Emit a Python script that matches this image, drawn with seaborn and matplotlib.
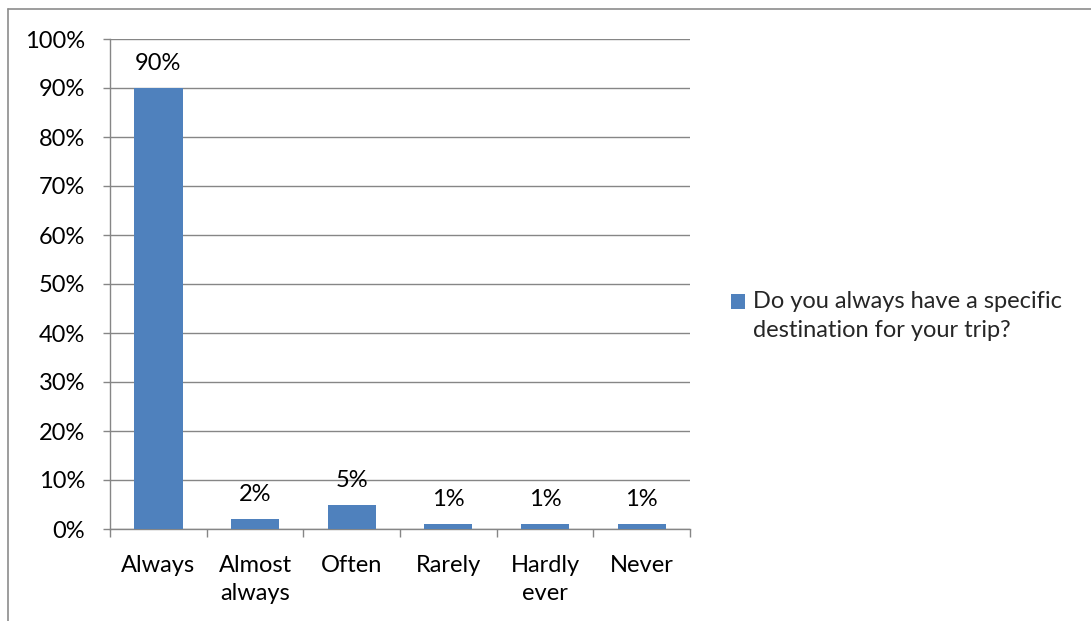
import matplotlib
matplotlib.use("Agg")
import matplotlib.pyplot as plt
from matplotlib.lines import Line2D
from matplotlib.patches import Patch, Rectangle
from matplotlib.legend_handler import HandlerPatch
from matplotlib.ticker import FixedLocator, FuncFormatter
import seaborn as sns
import pandas as pd

categories = ["Always", "Almost\nalways", "Often", "Rarely", "Hardly\never", "Never"]
values = [90, 2, 5, 1, 1, 1]
value_labels = ["90%", "2%", "5%", "1%", "1%", "1%"]
series_name = "Do you always have a specific\ndestination for your trip?"
y_ticks = [0, 10, 20, 30, 40, 50, 60, 70, 80, 90, 100]

sns.set_theme(style="white")
plt.rcParams["font.family"] = ["Lato", "DejaVu Sans"]

W, H = 1091, 621
FS = 17
fig = plt.figure(figsize=(W / 100, H / 100), dpi=100)
ax = fig.add_axes([110 / W, (H - 529) / H, 580 / W, 490 / H])

bar_color = "#4F81BD"
grid_color = "#868686"
df = pd.DataFrame({"category": categories, "value": values})
sns.barplot(data=df, x="category", y="value", color=bar_color, width=0.5,
            saturation=1, linewidth=0, ax=ax, zorder=3)

ax.set_ylim(0, 100)
ax.set_xlim(-0.5, len(categories) - 0.5)
ax.yaxis.set_major_locator(FixedLocator(y_ticks))
ax.yaxis.set_major_formatter(FuncFormatter(lambda v, p: f"{int(v)}%"))
ax.grid(axis="y", color=grid_color, linewidth=1.0, zorder=0)
ax.set_axisbelow(True)
ax.set_xlabel("")
ax.set_ylabel("")

for side in ["top", "right"]:
    ax.spines[side].set_visible(False)
for side in ["left", "bottom"]:
    ax.spines[side].set_color(grid_color)
    ax.spines[side].set_linewidth(1.0)

ax.tick_params(axis="y", length=5, width=1, color=grid_color, labelsize=FS,
               labelcolor="black", pad=13, left=True)
ax.tick_params(axis="x", which="major", length=0, labelsize=FS,
               labelcolor="black", pad=19)
ax.set_xticks([i + 0.5 for i in range(-1, len(categories))], minor=True)
ax.tick_params(axis="x", which="minor", length=6, width=1, color=grid_color,
               bottom=True)
for lbl in ax.get_xticklabels():
    lbl.set_linespacing(1.4)

for i, (v, t) in enumerate(zip(values, value_labels)):
    ax.annotate(t, (i, v), xytext=(0, 10), textcoords="offset points",
                ha="center", va="bottom", fontsize=FS, color="black")


class FirstLineSquare(HandlerPatch):
    """Legend key drawn as a square level with the first text line."""

    def create_artists(self, legend, orig_handle, xdescent, ydescent,
                       width, height, fontsize, trans):
        side = width
        lift = 0.62 * fontsize
        rect = Rectangle((-xdescent, -ydescent + (height - side) / 2 + lift),
                         side, side, facecolor=orig_handle.get_facecolor(),
                         edgecolor="none", transform=trans)
        return [rect]


handle = Patch(facecolor=bar_color, edgecolor="none")
leg = fig.legend([handle], [series_name], loc="center left",
                 bbox_to_anchor=(731 / W, 1 - 316 / H), frameon=False,
                 fontsize=FS, handlelength=0.6, handleheight=0.6,
                 handletextpad=0.35, borderaxespad=0, borderpad=0,
                 handler_map={Patch: FirstLineSquare()})
for txt in leg.get_texts():
    txt.set_linespacing(1.45)

fig.add_artist(Line2D([8 / W, 1], [1 - 9 / H, 1 - 9 / H], color="#8c8c8c",
                      linewidth=1.2, transform=fig.transFigure))
fig.add_artist(Line2D([8 / W, 8 / W], [0, 1 - 9 / H], color="#8c8c8c",
                      linewidth=1.2, transform=fig.transFigure))

fig.savefig("out.png", dpi=100)
